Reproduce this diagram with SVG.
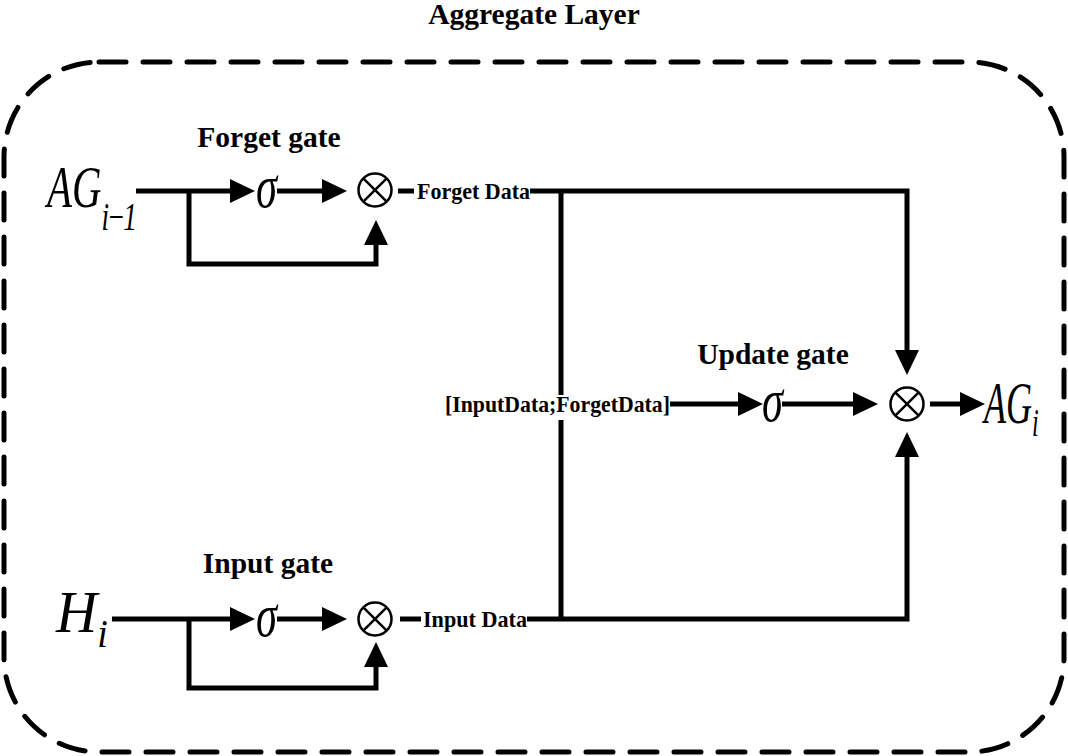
<svg xmlns="http://www.w3.org/2000/svg" width="1068" height="756" viewBox="0 0 1068 756">
  <style>
    .ln { fill: none; stroke: #000; stroke-width: 5; stroke-linejoin: miter; }
    .arr { marker-end: url(#ah); }
    .otimes circle { fill: #fff; stroke: #000; stroke-width: 2.5; }
    .otimes path { stroke: #000; stroke-width: 2.5; fill: none; }
    .lbl { font-family: "Liberation Serif", "Times New Roman", serif; font-weight: bold; font-size: 29.5px; fill: #000; text-anchor: middle; }
    .dat { font-family: "Liberation Serif", "Times New Roman", serif; font-weight: bold; font-size: 24px; fill: #000; }
    .math { font-family: "Liberation Serif", "Times New Roman", serif; font-style: italic; fill: #000; font-size: 60px; }
    .sub { font-size: 40px; }
    .sig { font-size: 62px; }
  </style>
  <defs>
    <marker id="ah" viewBox="0 0 25 24" refX="10" refY="12" markerWidth="25" markerHeight="24" markerUnits="userSpaceOnUse" orient="auto">
      <path d="M0,0 L25,12 L0,24 Z" fill="#000"/>
    </marker>
  </defs>
  <rect width="1068" height="756" fill="#fff"/>

  <!-- Aggregate layer frame -->
  <g id="aggregate-layer">
    <rect x="4" y="62" width="1060" height="690" rx="95" ry="95" fill="none" stroke="#000" stroke-width="5" stroke-dasharray="27 17" stroke-linecap="round"/>
    <text class="lbl" x="534" y="24">Aggregate Layer</text>
  </g>

  <!-- connectors -->
  <g id="connectors">
    <!-- forget gate row -->
    <path class="ln arr" d="M136 191 H240"/>
    <path class="ln arr" d="M277 191 H332"/>
    <path class="ln arr" d="M189 191 V264 H376 V235"/>
    <path class="ln" d="M398 191 H414"/>
    <path class="ln arr" d="M530 191 H907 V360"/>
    <!-- input gate row -->
    <path class="ln arr" d="M112 619 H240"/>
    <path class="ln arr" d="M277 619 H332"/>
    <path class="ln arr" d="M189 619 V688 H376 V657"/>
    <path class="ln" d="M400 619 H421"/>
    <path class="ln arr" d="M527 619 H907 V447"/>
    <!-- concat vertical -->
    <path class="ln" d="M561 191 V395"/>
    <path class="ln" d="M561 420 V619"/>
    <!-- update gate row -->
    <path class="ln arr" d="M670 404 H748"/>
    <path class="ln arr" d="M782 404 H863"/>
    <path class="ln arr" d="M930 404 H970"/>
  </g>

  <!-- inputs -->
  <g id="ag-prev">
    <text class="math" transform="translate(47 207) scale(0.68 1)">AG<tspan class="sub" dy="23" letter-spacing="-3">i−1</tspan></text>
  </g>
  <g id="h-i">
    <text class="math" transform="translate(56 632) scale(0.95 1)">H<tspan class="sub" dy="15">i</tspan></text>
  </g>

  <!-- forget gate -->
  <g id="forget-gate">
    <text class="lbl" x="269" y="147">Forget gate</text>
    <text class="math sig" x="256" y="207" textLength="21" lengthAdjust="spacingAndGlyphs">σ</text>
  </g>
  <g id="forget-mult" class="otimes">
    <circle cx="375" cy="190" r="16.5"/>
    <path d="M363.3 178.3 L386.7 201.7 M386.7 178.3 L363.3 201.7"/>
  </g>
  <g id="forget-data">
    <text class="dat" x="417" y="199" textLength="113" lengthAdjust="spacingAndGlyphs">Forget Data</text>
  </g>

  <!-- input gate -->
  <g id="input-gate">
    <text class="lbl" x="268" y="573">Input gate</text>
    <text class="math sig" x="256" y="636" textLength="21" lengthAdjust="spacingAndGlyphs">σ</text>
  </g>
  <g id="input-mult" class="otimes">
    <circle cx="375" cy="619" r="16.5"/>
    <path d="M363.3 607.3 L386.7 630.7 M386.7 607.3 L363.3 630.7"/>
  </g>
  <g id="input-data">
    <text class="dat" x="423" y="627" textLength="104" lengthAdjust="spacingAndGlyphs">Input Data</text>
  </g>

  <!-- update gate -->
  <g id="concat">
    <text class="dat" x="445" y="412" textLength="225" lengthAdjust="spacingAndGlyphs">[InputData;ForgetData]</text>
  </g>
  <g id="update-gate">
    <text class="lbl" x="773" y="364">Update gate</text>
    <text class="math sig" x="762" y="421" textLength="21" lengthAdjust="spacingAndGlyphs">σ</text>
  </g>
  <g id="update-mult" class="otimes">
    <circle cx="907" cy="404" r="16.5"/>
    <path d="M895.3 392.3 L918.7 415.7 M918.7 392.3 L895.3 415.7"/>
  </g>

  <!-- output -->
  <g id="ag-out">
    <text class="math" transform="translate(984 423) scale(0.6 1)">AG<tspan class="sub" dy="13">i</tspan></text>
  </g>
</svg>
